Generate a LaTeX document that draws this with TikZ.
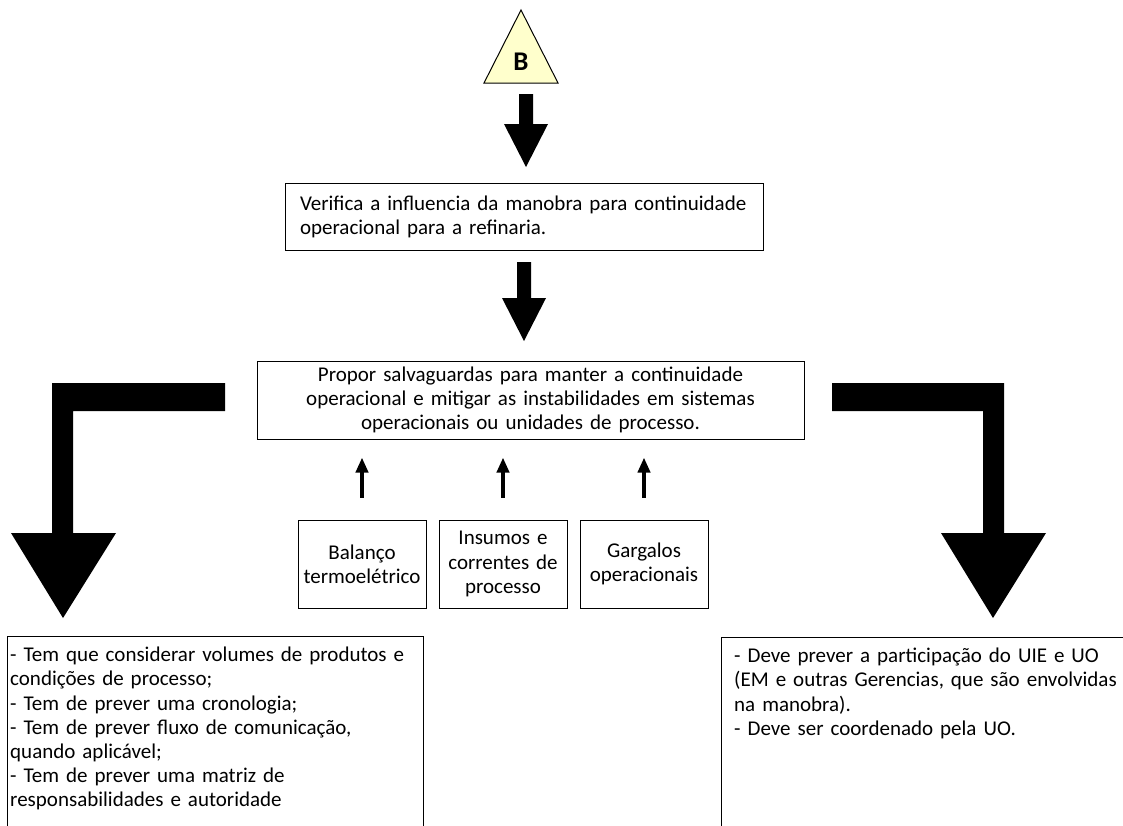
\documentclass[tikz,border=0pt]{standalone}
\usepackage{fontspec}
\setmainfont{Carlito}
\usetikzlibrary{arrows.meta}
\definecolor{tri}{RGB}{255,255,204}
\tikzset{
  txt/.style={font=\fontsize{21}{24.2}\selectfont},
  box/.style={draw=black, line width=1pt, inner sep=0pt, txt},
  block/.style={fill=black, draw=none},
  uparrow/.style={line width=4pt, -{Triangle[length=15pt,width=12pt]}}
}
\begin{document}
\begin{tikzpicture}[x=1pt,y=-1pt]
\useasboundingbox (0,0) rectangle (1123,825);
\clip (0,0) rectangle (1123,825);
\fill[white] (0,0) rectangle (1123,825);

% triangle B
\draw[fill=tri, line width=1pt] (521,10) -- (558,83) -- (484,83) -- cycle;
\node[font=\fontsize{27}{30}\bfseries] (B) at (521,62) {B};

% block arrow 1
\path[block] (519,94) -- (533,94) -- (533,124) -- (548,124) -- (526,167) -- (504,124) -- (519,124) -- cycle;

\node[box, minimum width=478, minimum height=67, text width=448, align=left] (v) at (524,216.5)
  {Verifica a influencia da manobra para continuidade\\operacional para a refinaria.};

% block arrow 2
\path[block] (517,262) -- (531,262) -- (531,298) -- (546,298) -- (524,341) -- (502,298) -- (517,298) -- cycle;

\node[box, minimum width=547, minimum height=78, text width=530, align=center] (p) at (530.5,400)
  {Propor salvaguardas para manter a continuidade\\operacional e mitigar as instabilidades em sistemas\\operacionais ou unidades de processo.};

% L arrows
\path[block] (225,383) -- (52,383) -- (52,533) -- (11,533) -- (63,618) -- (116,533) -- (73,533) -- (73,411) -- (225,411) -- cycle;
\path[block] (832,383) -- (1004,383) -- (1004,533) -- (1046,533) -- (993,618) -- (941,533) -- (983,533) -- (983,411) -- (832,411) -- cycle;

% small boxes
\node[box, minimum width=128, minimum height=88, text width=126, align=center] (a) at (362,564) {Balanço\\termoelétrico};
\node[box, minimum width=128, minimum height=88, text width=126, align=center] (b) at (503,564) {Insumos e\\correntes de\\processo};
\node[box, minimum width=128, minimum height=88, text width=126, align=center] (c) at (644,564) {Gargalos\\operacionais};

\draw[uparrow, shorten <=22pt, shorten >=18pt] (a.north) -- (a.north |- p.south);
\draw[uparrow, shorten <=22pt, shorten >=18pt] (b.north) -- (b.north |- p.south);
\draw[uparrow, shorten <=22pt, shorten >=18pt] (c.north) -- (c.north |- p.south);

% bottom boxes
\node[box, anchor=north west, minimum width=416, minimum height=220] (lb) at (7,636) {};
\node[txt, anchor=north west, inner sep=0pt, text width=412, align=left] (lt) at ([xshift=3pt,yshift=-11pt]lb.north west)
  {- Tem que considerar volumes de produtos e\\condições de processo;\\- Tem de prever uma cronologia;\\- Tem de prever fluxo de comunicação,\\quando aplicável;\\- Tem de prever uma matriz de\\responsabilidades e autoridade};
\node[box, anchor=north west, minimum width=440, minimum height=220] (rb) at (721,637) {};
\node[txt, anchor=north west, inner sep=0pt, text width=400, align=left] (rt) at ([xshift=13pt,yshift=-11pt]rb.north west)
  {- Deve prever a participação do UIE e UO\\(EM e outras Gerencias, que são envolvidas\\na manobra).\\- Deve ser coordenado pela UO.};
\end{tikzpicture}
\end{document}
